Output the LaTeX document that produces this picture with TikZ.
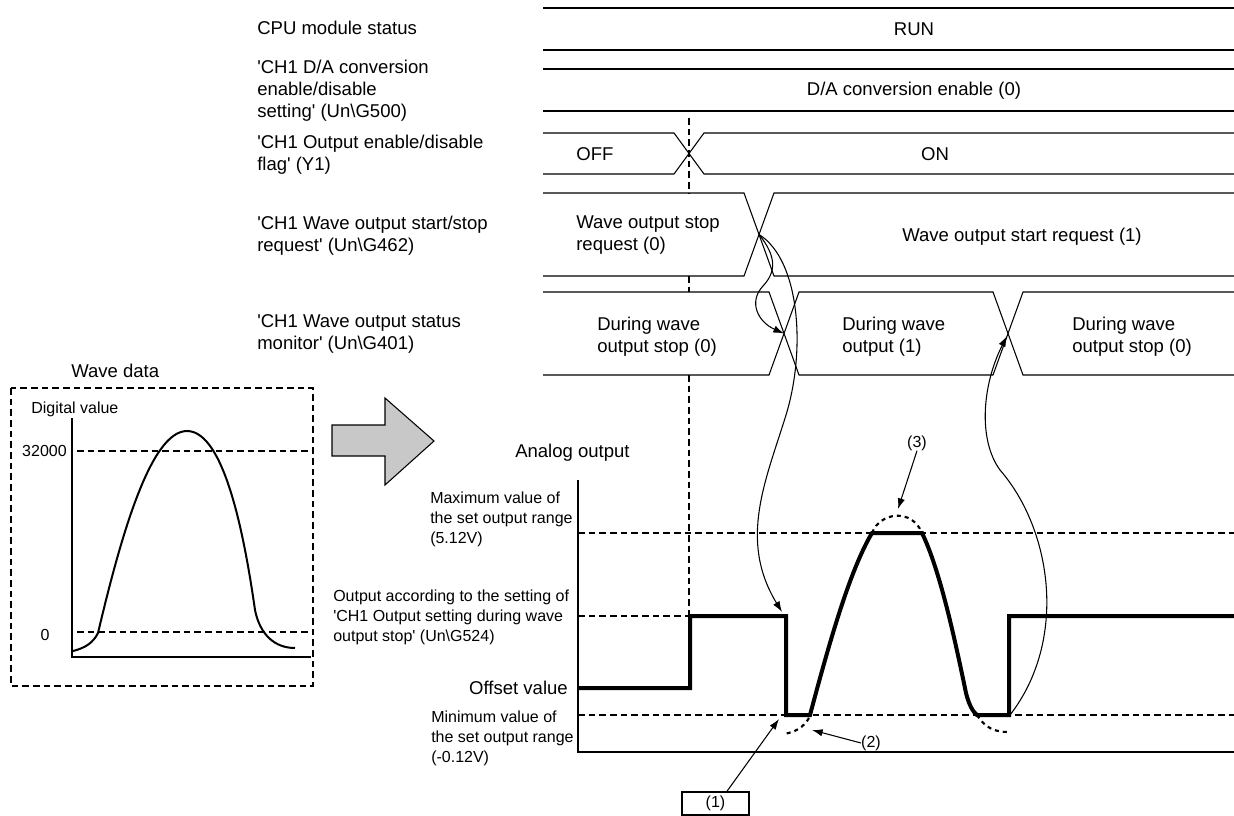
\documentclass[tikz,border=0pt]{standalone}
\usepackage{fontspec}
\newfontfamily\arial{Liberation Sans}
\usetikzlibrary{arrows.meta}
\definecolor{arrgray}{RGB}{200,200,200}
\begin{document}
\begin{tikzpicture}[x=0.75pt,y=-0.75pt,
  every node/.style={inner sep=0pt},
  big/.style={font={\arial\fontsize{13.9}{16.5}\selectfont}},
  sml/.style={font={\arial\fontsize{12}{15}\selectfont}},
  ml/.style={align=left,anchor=north west},
  ln/.style={line width=0.8pt},
  dsh/.style={line width=0.8pt,dash pattern=on 5pt off 3pt},
  wavel/.style={line width=3pt,line join=miter},
  dotarc/.style={line width=1.6pt,dash pattern=on 3pt off 3pt},
  conn/.style={line width=0.8pt,-{Latex[length=8pt,width=5.5pt]}}
]
\useasboundingbox (0,0) rectangle (1234,816);

% ---------- left labels ----------
\node[big,anchor=base west] (lcpu) at (257,35) {CPU module status};
\node[big,ml] (lda) at (257,59.5) {'CH1 D/A conversion\\enable/disable\\setting' (Un\textbackslash G500)};
\node[big,ml] (lyo) at (257,134.5) {'CH1 Output enable/disable\\flag' (Y1)};
\node[big,ml] (lreq) at (257,215.5) {'CH1 Wave output start/stop\\request' (Un\textbackslash G462)};
\node[big,ml] (lst) at (257,314.5) {'CH1 Wave output status\\monitor' (Un\textbackslash G401)};

% ---------- timing rows ----------
\draw[ln] (543,8) -- (1234,8);
\draw[ln] (543,50) -- (1234,50);
\node[big,anchor=base] (trun) at (914,36) {RUN};
\draw[ln] (543,69) -- (1234,69);
\draw[ln] (543,111) -- (1234,111);
\node[big,anchor=base] (tda) at (914,96) {D/A conversion enable (0)};
% OFF/ON
\draw[ln] (543,133) -- (674,133) -- (704,174) -- (1234,174);
\draw[ln] (543,174) -- (674,174) -- (704,133) -- (1234,133);
\node[big,anchor=base] (toff) at (595,161) {OFF};
\node[big,anchor=base] (ton) at (935,161) {ON};
% request
\draw[ln] (543,193) -- (744,193) -- (774,276) -- (1234,276);
\draw[ln] (543,276) -- (744,276) -- (774,193) -- (1234,193);
\node[big,ml] (tstopreq) at (576,215.5) {Wave output stop\\request (0)};
\node[big,anchor=base] (tstartreq) at (1022,242) {Wave output start request (1)};
% status monitor
\draw[ln] (543,292) -- (769,292) -- (799,375) -- (993,375) -- (1023,292) -- (1234,292);
\draw[ln] (543,375) -- (769,375) -- (799,292) -- (993,292) -- (1023,375) -- (1234,375);
\node[big,ml] (ts1) at (597,316.5) {During wave\\output stop (0)};
\node[big,ml] (ts2) at (842,316.5) {During wave\\output (1)};
\node[big,ml] (ts3) at (1072,316.5) {During wave\\output stop (0)};

% vertical dashed marker
\draw[dsh] (689,118) -- (689,193);
\draw[dsh] (689,276) -- (689,292);
\draw[dsh] (689,375) -- (689,616);

% ---------- wave data box ----------
\node[big,anchor=base west] (wdata) at (71,378) {Wave data};
\draw[dsh] (11,388) rectangle (313,686);
\node[sml,anchor=base west] (dval) at (31,413) {Digital value};
\draw[ln] (72,418) -- (72,657) -- (311,657);
\draw[dsh] (77,451) -- (313,451);
\draw[dsh] (77,632) -- (313,632);
\node[sml,anchor=base east] (v32) at (67,456) {32000};
\node[sml,anchor=base] (v0) at (45,640) {0};
\draw[line width=1.5pt] (73,651) .. controls (85,648) and (93,643) .. (98,633)
  .. controls (120,540) and (150,431) .. (187,431)
  .. controls (225,431) and (245,540) .. (255,610)
  .. controls (260,635) and (275,648) .. (295,648);

% big arrow
\draw[ln,fill=arrgray,line join=miter] (332,425) -- (385,425) -- (385,398) -- (434,441) -- (385,485) -- (385,456) -- (332,456) -- cycle;

% ---------- analog output ----------
\node[big,anchor=base west] (aout) at (515,457) {Analog output};
\draw[ln] (578,480) -- (578,752) -- (1234,752);
\draw[dsh] (578,533) -- (1234,533);
\draw[dsh] (578,616) -- (690,616);
\draw[dsh] (578,715) -- (1234,715);
\node[sml,ml] (lmax) at (430,491.3) {Maximum value of\\the set output range\\(5.12V)};
\node[sml,ml] (lset) at (333,590) {Output according to the setting of\\'CH1 Output setting during wave\\output stop' (Un\textbackslash G524)};
\node[big,anchor=base east] (loff) at (568,694) {Offset value};
\node[sml,ml] (lmin) at (431,710.3) {Minimum value of\\the set output range\\(-0.12V)};

\draw[wavel] (578,688) -- (690,688) -- (690,616) -- (786,616) -- (786,715) -- (810,715)
  .. controls (830,640) and (850,570) .. (872,533) -- (922,533)
  .. controls (940,570) and (955,640) .. (966,693)
  .. controls (969,705) and (973,712) .. (977,715) -- (1009,715) -- (1009,616) -- (1234,616);

\draw[dotarc] (872,533) .. controls (880,512) and (912,508) .. (922,533);
\draw[dotarc] (809,718) .. controls (803,728) and (795,732) .. (784,734);
\draw[dotarc] (977,715) .. controls (985,728) and (995,732) .. (1008,732);

% ---------- connectors ----------
\coordinate (xreq) at (759,234.5);
\coordinate (xst1) at (784,333.5);
\coordinate (xst2) at (1007,336);
\coordinate (aodrop) at (782,612);
\coordinate (aorise) at (1010,715);
\coordinate (p1) at (779,719);
\coordinate (p2) at (812,730);
\coordinate (p3) at (898,509);

\draw[conn] (xreq) .. controls (777,257) and (776,272) .. (763,286)
  .. controls (748,302) and (758,322) .. (xst1);
\draw[conn] (xreq) .. controls (800,260) and (806,350) .. (786,415)
  .. controls (766,480) and (738,540) .. (aodrop);
\draw[conn] (aorise) .. controls (1068,640) and (1052,530) .. (1000,470)
  .. controls (978,440) and (982,385) .. (xst2);

\node[sml,draw,ln,minimum width=50.25pt,minimum height=17.25pt] (n1) at (715.5,803.5) {(1)};
\draw[conn] ([xshift=8.5pt]n1.north) -- (p1);
\node[sml] (n2) at (871,743) {(2)};
\draw[conn] (n2.west) -- (p2);
\node[sml] (n3) at (917,443) {(3)};
\draw[conn] (n3.south) -- (p3);
\end{tikzpicture}
\end{document}
